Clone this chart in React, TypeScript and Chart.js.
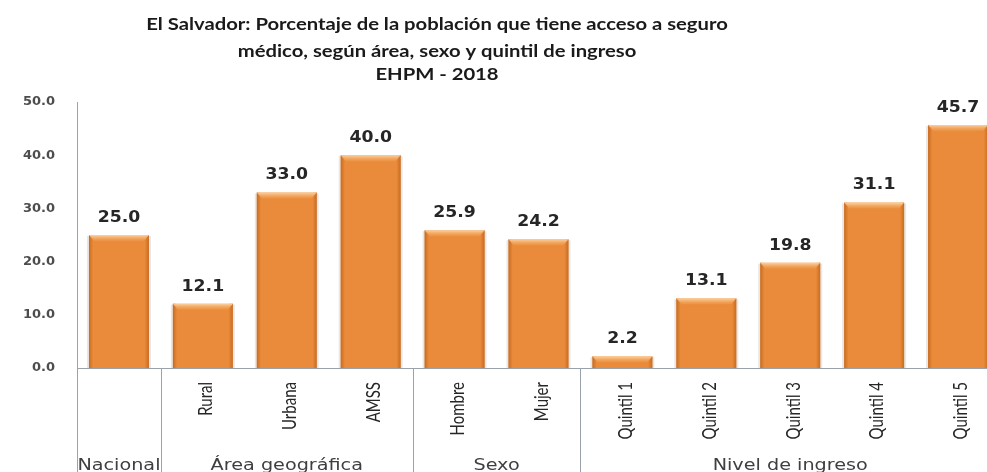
import React, { useEffect, useRef } from "react";
import { Chart, registerables } from "chart.js";

Chart.register(...registerables);

const titleLines = [
  "El Salvador: Porcentaje de la población que tiene acceso a seguro",
  "médico, según área, sexo y quintil de ingreso",
  "EHPM - 2018",
];
const categories = [
  "Nacional",
  "Rural",
  "Urbana",
  "AMSS",
  "Hombre",
  "Mujer",
  "Quintil 1",
  "Quintil 2",
  "Quintil 3",
  "Quintil 4",
  "Quintil 5",
];
const tickLabels = ["", "Rural", "Urbana", "AMSS", "Hombre", "Mujer", "Quintil 1", "Quintil 2", "Quintil 3", "Quintil 4", "Quintil 5"];
const values = [25.0, 12.1, 33.0, 40.0, 25.9, 24.2, 2.2, 13.1, 19.8, 31.1, 45.7];
const groupNames = ["Nacional", "Área geográfica", "Sexo", "Nivel de ingreso"];
const groupSizes = [1, 3, 2, 5];
const yTicks = [0, 10, 20, 30, 40, 50];

const AXIS_COLOR = "#9aa3ad";

const titlePlugin = {
  id: "customTitle",
  afterDraw(chart: any) {
    const ctx = chart.ctx;
    ctx.save();
    ctx.fillStyle = "#1a1a1a";
    ctx.font = "bold 17px Lato";
    ctx.textAlign = "center";
    ctx.textBaseline = "middle";
    const cx = 437;
    const ys = [25, 52, 75];
    titleLines.forEach((t, i) => {
      ctx.save();
      ctx.translate(cx, ys[i]);
      ctx.scale(1.19, 1);
      ctx.fillText(t, 0, 0);
      ctx.restore();
    });
    ctx.restore();
  },
};

const barStylePlugin = {
  id: "barStyle",
  beforeDatasetsDraw(chart: any) {
    const ctx = chart.ctx;
    const meta = chart.getDatasetMeta(0);
    ctx.save();
    meta.data.forEach((bar: any) => {
      const { x, y, base, width } = bar.getProps(["x", "y", "base", "width"], true);
      const l = x - width / 2;
      ctx.fillStyle = "rgba(120,120,120,0.18)";
      ctx.fillRect(l - 2, y + 1, width + 4, base - y - 1);
    });
    ctx.restore();
  },
  afterDatasetsDraw(chart: any) {
    const ctx = chart.ctx;
    const meta = chart.getDatasetMeta(0);
    ctx.save();
    meta.data.forEach((bar: any, i: number) => {
      const { x, y, base, width } = bar.getProps(["x", "y", "base", "width"], true);
      const l = x - width / 2;
      const r = x + width / 2;
      const h = base - y;
      const g = ctx.createLinearGradient(l, 0, r, 0);
      g.addColorStop(0, "rgba(180,85,15,0.6)");
      g.addColorStop(0.07, "rgba(180,85,15,0.0)");
      g.addColorStop(0.93, "rgba(180,85,15,0.0)");
      g.addColorStop(1, "rgba(180,85,15,0.6)");
      ctx.fillStyle = g;
      ctx.fillRect(l, y, width, h);
      const bh = Math.min(6, h / 2);
      const tg = ctx.createLinearGradient(0, y, 0, y + bh);
      tg.addColorStop(0, "rgba(255,215,170,0.95)");
      tg.addColorStop(1, "rgba(245,170,95,0.25)");
      ctx.fillStyle = tg;
      ctx.beginPath();
      ctx.moveTo(l, y);
      ctx.lineTo(r, y);
      ctx.lineTo(r - 5, y + bh);
      ctx.lineTo(l + 5, y + bh);
      ctx.closePath();
      ctx.fill();
      ctx.fillStyle = "#262626";
      ctx.font = "bold 15px 'DejaVu Sans'";
      ctx.textAlign = "center";
      ctx.textBaseline = "middle";
      ctx.save();
      ctx.translate(x, y - 17);
      ctx.scale(1.15, 1);
      ctx.fillText(values[i].toFixed(1), 0, 0);
      ctx.restore();
    });
    ctx.restore();
  },
};

const groupPlugin = {
  id: "groups",
  afterDraw(chart: any) {
    const ctx = chart.ctx;
    const xs = chart.scales.x;
    const top = chart.chartArea.bottom;
    const bottom = chart.height;
    const half = (xs.getPixelForValue(1) - xs.getPixelForValue(0)) / 2;
    ctx.save();
    // rotated category labels
    ctx.fillStyle = "#262626";
    ctx.font = "15px Lato";
    ctx.textAlign = "right";
    ctx.textBaseline = "middle";
    tickLabels.forEach((t, i) => {
      if (!t) return;
      const px = xs.getPixelForValue(i) + 3;
      ctx.save();
      ctx.translate(px, top + 14);
      ctx.rotate(-Math.PI / 2);
      ctx.scale(1, 1.3);
      ctx.fillText(t, 0, 0);
      ctx.restore();
    });
    // group separators
    ctx.strokeStyle = AXIS_COLOR;
    ctx.lineWidth = 1;
    let idx = 0;
    const bounds: number[] = [xs.getPixelForValue(0) - half];
    groupSizes.forEach((s) => {
      idx += s;
      bounds.push(xs.getPixelForValue(idx - 1) + half);
    });
    bounds.forEach((bx) => {
      const px = Math.round(bx) + 0.5;
      ctx.beginPath();
      ctx.moveTo(px, top);
      ctx.lineTo(px, bottom);
      ctx.stroke();
    });
    ctx.fillStyle = "#3f3f3f";
    ctx.font = "15px 'DejaVu Sans'";
    ctx.textAlign = "center";
    ctx.textBaseline = "middle";
    groupNames.forEach((n, i) => {
      const cx = (bounds[i] + bounds[i + 1]) / 2;
      ctx.save();
      ctx.translate(cx, 466);
      ctx.scale(1.28, 1);
      ctx.fillText(n, 0, 0);
      ctx.restore();
    });
    ctx.restore();
  },
};

export default function App() {
  const ref = useRef<HTMLCanvasElement | null>(null);
  useEffect(() => {
    if (!ref.current) return;
    const chart = new Chart(ref.current, {
      type: "bar",
      data: {
        labels: categories,
        datasets: [
          {
            data: values,
            backgroundColor: "#e98b3a",
            borderWidth: 0,
            barPercentage: 0.715,
            categoryPercentage: 1,
          },
        ],
      },
      options: {
        animation: false,
        responsive: false,
        maintainAspectRatio: false,
        layout: { padding: { top: 102, left: 0, right: 0, bottom: 0 } },
        plugins: {
          legend: { display: false },
          title: { display: false },
          tooltip: { enabled: false },
        },
        scales: {
          x: {
            grid: { display: false, drawTicks: false },
            border: { display: true, color: AXIS_COLOR, width: 1 },
            ticks: { display: false },
            afterFit: (s: any) => {
              s.height = 104;
            },
          },
          y: {
            min: 0,
            max: 50,
            afterBuildTicks: (s: any) => {
              s.ticks = yTicks.map((v) => ({ value: v }));
            },
            grid: { display: false, drawTicks: false },
            border: { display: true, color: AXIS_COLOR, width: 1 },
            ticks: {
              padding: 22,
              color: "#4d4d4d",
              font: { family: "DejaVu Sans", size: 13, weight: "bold" },
              callback: (v: any) => Number(v).toFixed(1),
            },
            afterFit: (s: any) => {
              s.width = 77;
            },
          },
        },
      },
      plugins: [titlePlugin, barStylePlugin, groupPlugin],
    });
    return () => chart.destroy();
  }, []);
  return (
    <div style={{ position: "fixed", left: 0, top: 0, width: 987, height: 472, overflow: "hidden", background: "#fff" }}>
      <canvas ref={ref} width={1000} height={472} style={{ display: "block", width: 1000, height: 472 }} />
    </div>
  );
}
